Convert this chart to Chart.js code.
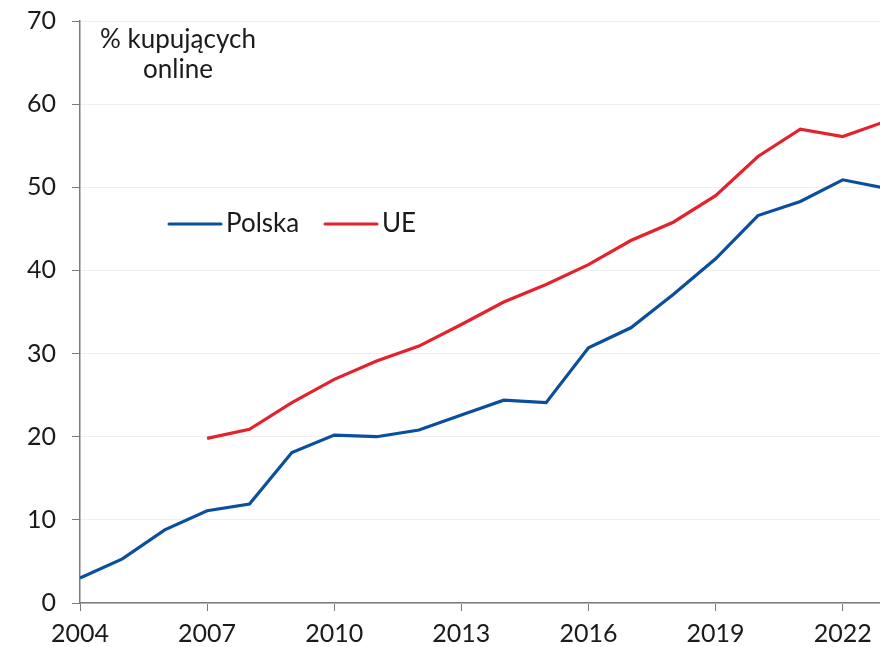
<!DOCTYPE html>
<html lang="pl">
<head>
    <meta charset="UTF-8">
    <title>Kupujący online - Polska i UE</title>
    <script src="https://cdn.jsdelivr.net/npm/chart.js"></script>
    <style>
        html, body { margin: 0; padding: 0; background: #fff; }
        .chart-container { width: 880px; height: 647px; }
    </style>
</head>
<body>
    <div class="chart-container">
        <canvas id="onlineChart"></canvas>
    </div>

    <script>
        const years = [2004, 2005, 2006, 2007, 2008, 2009, 2010, 2011, 2012, 2013,
                       2014, 2015, 2016, 2017, 2018, 2019, 2020, 2021, 2022, 2023];
        const polska = [3.0, 5.3, 8.8, 11.1, 11.9, 18.1, 20.2, 20.0, 20.8, 22.6,
                        24.4, 24.1, 30.7, 33.1, 37.1, 41.4, 46.6, 48.3, 50.9, 49.9];
        const ue = [null, null, null, 19.8, 20.9, 24.1, 26.9, 29.1, 30.9, 33.5,
                    36.2, 38.3, 40.7, 43.6, 45.8, 49.0, 53.7, 57.0, 56.1, 57.9];
        const yTicks = [0, 10, 20, 30, 40, 50, 60, 70];
        const xTicks = [2004, 2007, 2010, 2013, 2016, 2019, 2022];

        const FONT = 'Lato, "Open Sans", sans-serif';
        const BLUE = '#0a4f9e';
        const RED = '#e4222e';

        // legend + annotation drawn inside the plot
        const overlay = {
            id: 'overlay',
            afterDatasetsDraw(chart) {
                const ctx = chart.ctx;
                ctx.save();
                ctx.font = '26px ' + FONT;
                ctx.fillStyle = '#1a1a1a';
                ctx.textAlign = 'center';
                ctx.textBaseline = 'middle';
                ctx.fillText('% kupujących', 178, 40);
                ctx.fillText('online', 178, 70);

                const items = [['Polska', BLUE, 169], ['UE', RED, 325]];
                ctx.textAlign = 'left';
                items.forEach(([label, color, x]) => {
                    ctx.strokeStyle = color;
                    ctx.lineWidth = 3;
                    ctx.lineCap = 'round';
                    ctx.beginPath();
                    ctx.moveTo(x, 224);
                    ctx.lineTo(x + 52, 224);
                    ctx.stroke();
                    ctx.fillText(label, x + 57, 224);
                });
                ctx.restore();
            }
        };

        new Chart(document.getElementById('onlineChart'), {
            type: 'line',
            data: {
                datasets: [
                    {
                        label: 'Polska',
                        data: years.map((y, i) => ({ x: y, y: polska[i] })),
                        borderColor: BLUE,
                        borderWidth: 3.2,
                        pointRadius: 0,
                        tension: 0
                    },
                    {
                        label: 'UE',
                        data: years.map((y, i) => ({ x: y, y: ue[i] })),
                        borderColor: RED,
                        borderWidth: 3.2,
                        pointRadius: 0,
                        tension: 0
                    }
                ]
            },
            options: {
                responsive: true,
                maintainAspectRatio: false,
                animation: false,
                layout: { padding: { top: 21, right: 0, left: 0, bottom: 0 } },
                plugins: {
                    legend: { display: false },
                    tooltip: { enabled: false }
                },
                scales: {
                    x: {
                        type: 'linear',
                        min: 2004,
                        // the 2023 point sits just past the right edge, as in the source
                        max: 2022.88,
                        afterBuildTicks: axis => { axis.ticks = xTicks.map(v => ({ value: v })); },
                        afterFit: axis => {
                            axis.height = 44;
                            axis.paddingLeft = 0;
                            axis.paddingRight = 0;
                        },
                        grid: {
                            color: 'rgba(0,0,0,0)',
                            tickColor: '#7a7a7a',
                            tickLength: 8,
                            drawOnChartArea: false
                        },
                        border: { color: '#7a7a7a', width: 1.5 },
                        ticks: {
                            padding: 8,
                            maxRotation: 0,
                            color: '#1a1a1a',
                            font: { family: FONT, size: 25 },
                            callback: v => String(v)
                        }
                    },
                    y: {
                        min: 0,
                        max: 70,
                        afterBuildTicks: axis => { axis.ticks = yTicks.map(v => ({ value: v })); },
                        afterFit: axis => {
                            axis.width = 80;
                            axis.paddingTop = 0;
                            axis.paddingBottom = 0;
                        },
                        grid: {
                            color: '#efefef',
                            tickColor: '#7a7a7a',
                            tickLength: 8
                        },
                        border: { color: '#7a7a7a', width: 1.5 },
                        ticks: {
                            padding: 16,
                            color: '#1a1a1a',
                            font: { family: FONT, size: 25 }
                        }
                    }
                }
            },
            plugins: [overlay]
        });
    </script>
</body>
</html>
